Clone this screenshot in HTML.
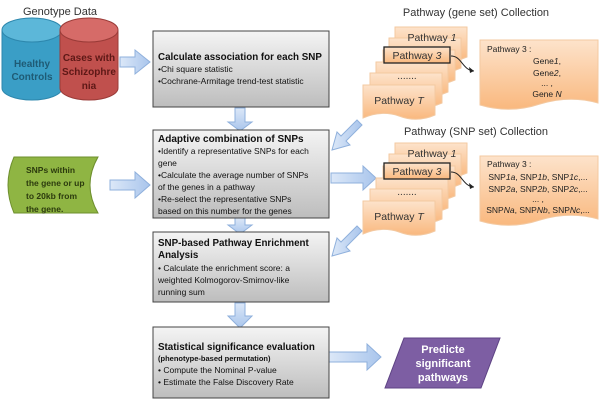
<!DOCTYPE html>
<html><head><meta charset="utf-8"><style>
body{margin:0;background:#fff}
svg{display:block;font-family:"Liberation Sans",sans-serif}
</style></head><body>
<svg width="600" height="403" viewBox="0 0 600 403" xmlns="http://www.w3.org/2000/svg">
<defs>
<linearGradient id="gb" x1="0" y1="0" x2="0" y2="1"><stop offset="0" stop-color="#f4f4f4"/><stop offset="1" stop-color="#bdbdbd"/></linearGradient>
<linearGradient id="go" x1="0" y1="0" x2="0" y2="1"><stop offset="0" stop-color="#fde3cb"/><stop offset="1" stop-color="#f9b87e"/></linearGradient>
<linearGradient id="ga" x1="0" y1="0" x2="1" y2="0"><stop offset="0" stop-color="#dce8f8"/><stop offset="1" stop-color="#a9c5ec"/></linearGradient>
<linearGradient id="gav" x1="0" y1="0" x2="0" y2="1"><stop offset="0" stop-color="#dce8f8"/><stop offset="1" stop-color="#a9c5ec"/></linearGradient>
<g id="card"><path d="M0,0 H72 V30 Q54,38 36,31 Q18,25 0,33 Z" fill="url(#go)" stroke="#f3c9a1" stroke-width="1"/></g>
<g id="stack">
<use href="#card" x="395" y="27"/><use href="#card" x="389" y="38"/><use href="#card" x="383" y="50"/>
<use href="#card" x="376" y="62"/><use href="#card" x="370" y="73"/><use href="#card" x="363" y="85"/>
<text x="432" y="41" font-size="10.5" text-anchor="middle" fill="#333">Pathway <tspan font-style="italic">1</tspan></text>
<rect x="384" y="47" width="66" height="16" fill="url(#go)" stroke="#222" stroke-width="1.3"/>
<text x="417" y="59" font-size="10.5" text-anchor="middle" fill="#333">Pathway <tspan font-style="italic">3</tspan></text>
<text x="407" y="79" font-size="10" text-anchor="middle" fill="#333">.......</text>
<text x="399" y="104" font-size="10.5" text-anchor="middle" fill="#333">Pathway <tspan font-style="italic">T</tspan></text>
<path d="M451,56 C462,56 462,70 474,71" fill="none" stroke="#222" stroke-width="1"/>
<path d="M474,71 l-5,-4 l1,6 z" fill="#222"/>
<path d="M480,40 H598 V103 Q570,95 540,104 Q510,114 480,105 Z" fill="url(#go)" stroke="#f3c9a1"/>
</g>
</defs>

<path d="M2,30 V88 A30,12 0 0 0 62,88 V30" fill="#3a9ec6" stroke="#2d87ad"/>
<ellipse cx="32" cy="30" rx="30" ry="12" fill="#5cb7d9" stroke="#2d87ad"/>
<path d="M60,30 V88 A29,12 0 0 0 118,88 V30" fill="#c0504d" stroke="#9a3b38"/>
<ellipse cx="89" cy="30" rx="29" ry="12" fill="#d66b68" stroke="#9a3b38"/>
<text x="60" y="15" font-size="11" text-anchor="middle" fill="#333">Genotype Data</text>
<g font-size="10" font-weight="bold" fill="#1f5b75" text-anchor="middle"><text x="32" y="67">Healthy</text><text x="32" y="80">Controls</text></g>
<g font-size="10" font-weight="bold" fill="#5d1816" text-anchor="middle"><text x="89" y="61">Cases with</text><text x="89" y="75">Schizophre</text><text x="89" y="89">nia</text></g>

<path d="M14,157 H98 Q82,185 98,213 H14 Q2,185 14,157 Z" fill="#8fb543" stroke="#6e8f2e"/>
<g font-size="8.5" font-weight="bold" fill="#2c3b0e"><text x="26" y="173">SNPs within</text><text x="26" y="186">the gene or up</text><text x="26" y="199">to 20kb from</text><text x="26" y="212">the gene.</text></g>

<path d="M120,57 H135 V50 L150,62 L135,74 V67 H120 Z" fill="url(#ga)" stroke="#8fb0dc"/>
<path d="M110,180 H135 V172 L150,185 L135,198 V190 H110 Z" fill="url(#ga)" stroke="#8fb0dc"/>
<path d="M331,173 H363 V166 L376,178 L363,190 V183 H331 Z" fill="url(#ga)" stroke="#8fb0dc"/>
<path d="M329,352 H367 V344 L381,357 L367,370 V362 H329 Z" fill="url(#ga)" stroke="#8fb0dc"/>
<path d="M235,108 V122 H228 L240,131 L252,122 H245 V108 Z" fill="url(#gav)" stroke="#8fb0dc"/>
<path d="M235,218 V225 H228 L240,234 L252,225 H245 V218 Z" fill="url(#gav)" stroke="#8fb0dc"/>
<path d="M235,303 V316 H228 L240,328 L252,316 H245 V303 Z" fill="url(#gav)" stroke="#8fb0dc"/>
<path d="M357,120 L341,136 L337,132 L332,150 L350,145 L346,141 L362,125 Z" fill="url(#ga)" stroke="#8fb0dc"/>
<path d="M357,226 L341,242 L337,238 L332,256 L350,251 L346,247 L362,231 Z" fill="url(#ga)" stroke="#8fb0dc"/>

<rect x="153" y="31" width="176" height="76" fill="url(#gb)" stroke="#444"/>
<text x="158" y="60" font-size="9.8" font-weight="bold" fill="#111">Calculate association for each SNP</text>
<g font-size="8.5" fill="#111"><text x="158" y="72">•Chi square statistic</text><text x="158" y="84">•Cochrane-Armitage trend-test statistic</text></g>

<rect x="153" y="130" width="176" height="88" fill="url(#gb)" stroke="#444"/>
<text x="158" y="142" font-size="10" font-weight="bold" fill="#111">Adaptive combination of SNPs</text>
<g font-size="8.5" fill="#111"><text x="158" y="154">•Identify a representative SNPs for each</text><text x="158" y="166">gene</text><text x="158" y="178">•Calculate the average number of SNPs</text><text x="158" y="190">of the genes in a pathway</text><text x="158" y="202">•Re-select the representative SNPs</text><text x="158" y="214">based on this number for the genes</text></g>

<rect x="153" y="232" width="176" height="70" fill="url(#gb)" stroke="#444"/>
<g font-size="9.8" font-weight="bold" fill="#111"><text x="158" y="246">SNP-based Pathway Enrichment</text><text x="158" y="258">Analysis</text></g>
<g font-size="8.5" fill="#111"><text x="158" y="271">• Calculate the enrichment score: a</text><text x="158" y="283">weighted Kolmogorov-Smirnov-like</text><text x="158" y="295">running sum</text></g>

<rect x="153" y="327" width="176" height="71" fill="url(#gb)" stroke="#444"/>
<text x="158" y="350" font-size="9.8" font-weight="bold" fill="#111">Statistical significance evaluation</text>
<text x="158" y="361" font-size="7.5" font-weight="bold" fill="#111">(phenotype-based permutation)</text>
<g font-size="8.5" fill="#111"><text x="158" y="373">• Compute the  Nominal P-value</text><text x="158" y="385">• Estimate the False Discovery Rate</text></g>

<path d="M404,338 H500 L481,388 H385 Z" fill="#7d5ea3" stroke="#5e4384"/>
<g font-size="11" font-weight="bold" fill="#fff" text-anchor="middle"><text x="443" y="353">Predicte</text><text x="443" y="367">significant</text><text x="443" y="381">pathways</text></g>

<text x="476" y="16" font-size="11" text-anchor="middle" fill="#333">Pathway (gene set) Collection</text>
<use href="#stack"/>
<g font-size="8.5" fill="#222"><text x="487" y="52">Pathway 3 :</text>
<text x="547" y="64" text-anchor="middle">Gene<tspan font-style="italic">1</tspan>,</text>
<text x="547" y="76" text-anchor="middle">Gene<tspan font-style="italic">2</tspan>,</text>
<text x="547" y="86" text-anchor="middle">... ,</text>
<text x="547" y="97" text-anchor="middle">Gene <tspan font-style="italic">N</tspan></text></g>

<text x="476" y="135" font-size="11" text-anchor="middle" fill="#333">Pathway (SNP set) Collection</text>
<use href="#stack" y="116"/>
<g font-size="8.5" fill="#222"><text x="487" y="167">Pathway 3 :</text>
<text x="538" y="180" text-anchor="middle">SNP<tspan font-style="italic">1a</tspan>, SNP<tspan font-style="italic">1b</tspan>, SNP<tspan font-style="italic">1c</tspan>,...</text>
<text x="538" y="192" text-anchor="middle">SNP<tspan font-style="italic">2a</tspan>, SNP<tspan font-style="italic">2b</tspan>, SNP<tspan font-style="italic">2c</tspan>,...</text>
<text x="538" y="202" text-anchor="middle">... ,</text>
<text x="538" y="213" text-anchor="middle">SNP<tspan font-style="italic">Na</tspan>, SNP<tspan font-style="italic">Nb</tspan>, SNP<tspan font-style="italic">Nc</tspan>,...</text></g>
</svg>
</body></html>
